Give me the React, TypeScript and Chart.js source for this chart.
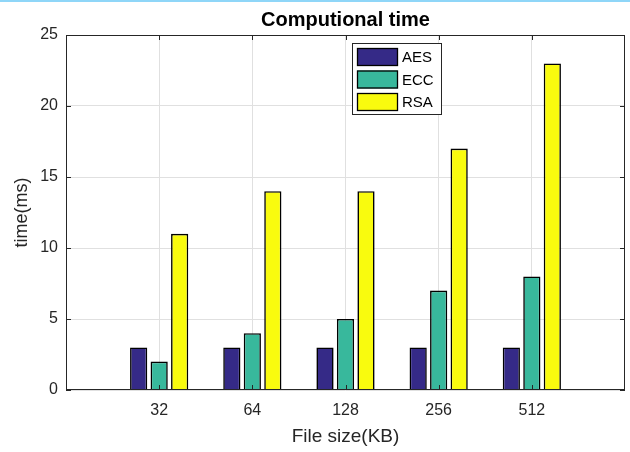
import React, { useEffect, useRef } from "react";
import { Chart, registerables } from "chart.js";

Chart.register(...registerables);

const categories = ["32", "64", "128", "256", "512"];
const seriesNames = ["AES", "ECC", "RSA"];
const aesValues = [3, 3, 3, 3, 3];
const eccValues = [2, 4, 5, 7, 8];
const rsaValues = [11, 14, 14, 17, 23];
const yTickValues = [0, 5, 10, 15, 20, 25];
const chartTitle = "Computional time";
const xAxisTitle = "File size(KB)";
const yAxisTitle = "time(ms)";

const FONT = "'Liberation Sans', Arial, Helvetica, sans-serif";
const AXIS_COLOR = "#262626";
const GRID_COLOR = "#e0e0e0";
const COLORS = ["#352a87", "#38b89c", "#f9fb0e"];

const decorPlugin = {
  id: "matlabDecor",
  afterDraw(chart: any) {
    const { ctx, chartArea } = chart;
    const { left, right, top, bottom } = chartArea;
    ctx.save();
    // top light-blue strip
    ctx.fillStyle = "#8fd6f8";
    ctx.fillRect(0, 0, chart.width, 2);

    // box
    ctx.strokeStyle = AXIS_COLOR;
    ctx.lineWidth = 1;
    ctx.strokeRect(left + 0.5, top + 0.5, right - left - 1, bottom - top - 1);

    // inward tick marks
    const ys = chart.scales.y;
    const xs = chart.scales.x;
    const tl = 5;
    ctx.beginPath();
    yTickValues.forEach((v) => {
      const py = Math.round(ys.getPixelForValue(v)) + 0.5;
      ctx.moveTo(left, py);
      ctx.lineTo(left + tl, py);
      ctx.moveTo(right - tl, py);
      ctx.lineTo(right, py);
    });
    categories.forEach((_, i) => {
      const px = Math.round(xs.getPixelForValue(i + 1)) + 0.5;
      ctx.moveTo(px, bottom);
      ctx.lineTo(px, bottom - tl);
      ctx.moveTo(px, top);
      ctx.lineTo(px, top + tl);
    });
    ctx.stroke();

    // title
    ctx.fillStyle = "#000000";
    ctx.font = `bold 20px ${FONT}`;
    ctx.textAlign = "center";
    ctx.textBaseline = "alphabetic";
    ctx.fillText(chartTitle, (left + right) / 2, 26);

    // legend
    const lx = 352;
    const ly = 43;
    const lw = 90;
    const lh = 72;
    ctx.fillStyle = "#ffffff";
    ctx.fillRect(lx, ly, lw, lh);
    ctx.strokeStyle = AXIS_COLOR;
    ctx.strokeRect(lx + 0.5, ly + 0.5, lw - 1, lh - 1);
    ctx.font = `15px ${FONT}`;
    ctx.textAlign = "left";
    ctx.textBaseline = "middle";
    chart.data.datasets.forEach((ds: any, i: number) => {
      const cy = ly + 14 + i * 22.5;
      ctx.fillStyle = ds.backgroundColor;
      ctx.fillRect(lx + 5, cy - 9, 41, 18);
      ctx.strokeStyle = "#000000";
      ctx.lineWidth = 1.3;
      ctx.strokeRect(lx + 5.5, cy - 8.5, 40, 17);
      ctx.fillStyle = "#000000";
      ctx.fillText(ds.label, lx + 50, cy + 1);
    });
    ctx.restore();
  },
};

export default function App() {
  const canvasRef = useRef<HTMLCanvasElement | null>(null);

  useEffect(() => {
    if (!canvasRef.current) return;
    const series = [aesValues, eccValues, rsaValues];
    const chart = new Chart(canvasRef.current, {
      type: "bar",
      data: {
        datasets: series.map((vals, si) => ({
          label: seriesNames[si],
          data: vals.map((v, i) => ({ x: i + 1, y: v })),
          backgroundColor: COLORS[si],
          borderColor: "#000000",
          borderWidth: 1.6,
          categoryPercentage: 0.66,
          barPercentage: 0.84,
        })),
      },
      options: {
        responsive: false,
        animation: false,
        devicePixelRatio: 1,
        layout: { padding: { left: 0, right: 5, top: 35, bottom: 0 } },
        plugins: {
          legend: { display: false },
          title: { display: false },
          tooltip: { enabled: false },
        },
        scales: {
          x: {
            type: "linear",
            min: 0,
            max: categories.length + 1,
            offset: false,
            afterBuildTicks: (scale: any) => {
              scale.ticks = categories.map((_, i) => ({ value: i + 1 }));
            },
            afterFit: (scale: any) => {
              scale.height = 62;
            },
            ticks: {
              autoSkip: false,
              maxRotation: 0,
              padding: 11,
              color: AXIS_COLOR,
              font: { family: FONT, size: 16 },
              callback: (value: any) => categories[Number(value) - 1] ?? "",
            },
            grid: { color: GRID_COLOR, drawTicks: false, offset: false },
            border: { display: false },
            title: {
              display: true,
              text: xAxisTitle,
              color: AXIS_COLOR,
              font: { family: FONT, size: 19 },
              padding: { top: 0, bottom: 4 },
            },
          },
          y: {
            type: "linear",
            min: 0,
            max: 25,
            afterBuildTicks: (scale: any) => {
              scale.ticks = yTickValues.map((v) => ({ value: v }));
            },
            afterFit: (scale: any) => {
              scale.width = 66;
            },
            ticks: {
              padding: 8,
              color: AXIS_COLOR,
              font: { family: FONT, size: 16 },
            },
            grid: { color: GRID_COLOR, drawTicks: false },
            border: { display: false },
            title: {
              display: true,
              text: yAxisTitle,
              color: AXIS_COLOR,
              font: { family: FONT, size: 18 },
              padding: { top: 11, bottom: 0 },
            },
          },
        },
      },
      plugins: [decorPlugin],
    } as any);
    return () => chart.destroy();
  }, []);

  return (
    <div style={{ position: "absolute", left: 0, top: 0, width: 630, height: 452, background: "#ffffff" }}>
      <canvas ref={canvasRef} width={630} height={452} style={{ width: 630, height: 452, display: "block" }} />
    </div>
  );
}
